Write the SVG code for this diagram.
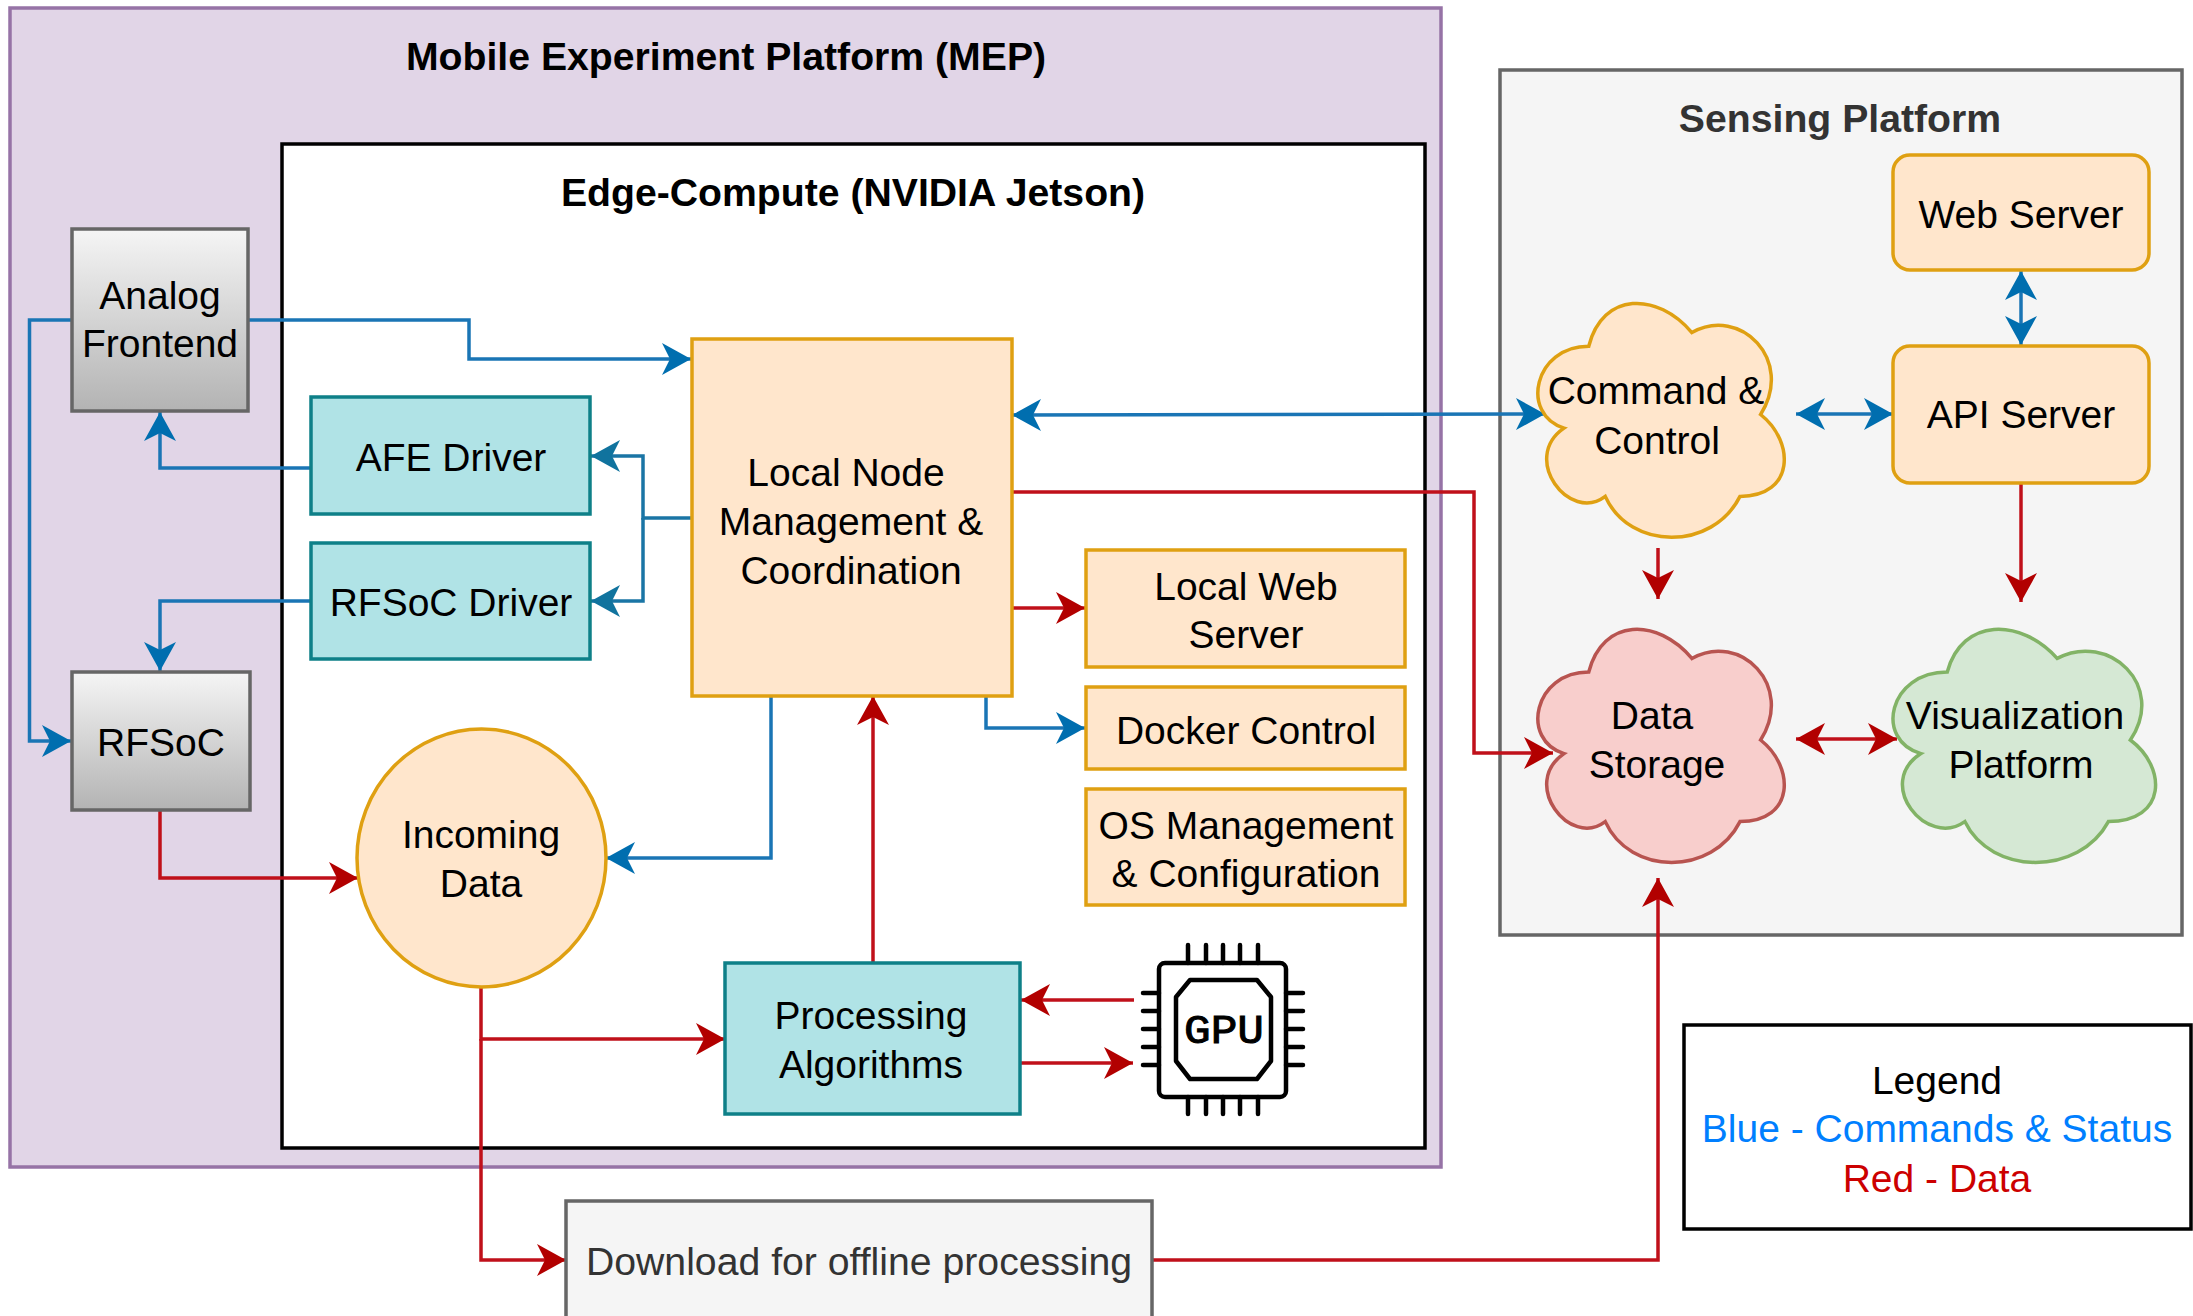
<svg xmlns="http://www.w3.org/2000/svg" xmlns:xlink="http://www.w3.org/1999/xlink" width="2193" height="1316" viewBox="0 0 2193 1316">
<style>
text{font-family:"Liberation Sans",Arial,sans-serif;font-size:39px;fill:#000;text-anchor:middle}
.t{font-weight:bold;font-size:39.200px}
.g{fill:#333}
.o{fill:#ffe6cc;stroke:#dfa012;stroke-width:3.5}
.c{fill:#b0e3e6;stroke:#0e8088;stroke-width:3.5}
.h{fill:url(#grey);stroke:#666;stroke-width:3.5}
.cl{stroke-width:3.5;vector-effect:non-scaling-stroke}
#conn path{fill:none;stroke-width:3.5}
.b{stroke:#1a75b5}
.tl{stroke:#1a75a5}
.r{stroke:#c0101a}
.gpu{fill:none;stroke:#000;stroke-width:4.500;stroke-linecap:round;stroke-linejoin:round}
</style>
<defs>
<linearGradient id="grey" x1="0" y1="0" x2="0" y2="1"><stop offset="0" stop-color="#f5f5f5"/><stop offset="1" stop-color="#b3b3b3"/></linearGradient>
<marker id="ab" markerUnits="userSpaceOnUse" markerWidth="32" markerHeight="36" refX="29" refY="17" orient="auto-start-reverse"><path d="M0,1 L29,17 L0,33 L8,17 Z" fill="#006eaf"/></marker>
<marker id="at" markerUnits="userSpaceOnUse" markerWidth="32" markerHeight="36" refX="29" refY="17" orient="auto-start-reverse"><path d="M0,1 L29,17 L0,33 L8,17 Z" fill="#10739e"/></marker>
<marker id="ar" markerUnits="userSpaceOnUse" markerWidth="32" markerHeight="36" refX="29" refY="17" orient="auto-start-reverse"><path d="M0,1 L29,17 L0,33 L8,17 Z" fill="#b20000"/></marker>
<path id="cloud" class="cl" d="M.25,.25C.05,.25 0,.5 .16,.55C0,.66 .18,.9 .31,.8C.4,1 .7,1 .8,.8C1,.8 1,.6 .875,.5C1,.3 .8,.1 .625,.2C.5,.05 .3,.05 .25,.25Z"/>
</defs>
<rect width="2193" height="1316" fill="#fff"/>
<g id="mep"><rect x="10" y="8" width="1431" height="1159" fill="#e1d5e7" stroke="#9673a6" stroke-width="3.5"/><text class="t" x="726" y="70">Mobile Experiment Platform (MEP)</text></g>
<g id="edge"><rect x="282" y="144" width="1143" height="1004" fill="#fff" stroke="#000" stroke-width="3.5"/><text class="t" x="853" y="206">Edge-Compute (NVIDIA Jetson)</text></g>
<g id="sensing"><rect x="1500" y="70" width="682" height="865" fill="#f5f5f5" stroke="#666" stroke-width="3.5"/><text class="t g" x="1840" y="132">Sensing Platform</text></g>
<g id="conn">
<path class="b" marker-end="url(#ab)" d="M249,320H469V359H691"/>
<path class="b" marker-end="url(#ab)" d="M71,320H29.500V741H71"/>
<path class="b" marker-end="url(#ab)" d="M310,468H160V412"/>
<path class="b" marker-end="url(#ab)" d="M310,601H160V671"/>
<path class="tl" marker-end="url(#at)" d="M691,518H643V456H591"/>
<path class="tl" marker-end="url(#at)" d="M643,518V601H591"/>
<path class="r" marker-end="url(#ar)" d="M160,810V878H358"/>
<path class="b" marker-end="url(#ab)" d="M771,696V858H606"/>
<path class="b" marker-start="url(#ab)" marker-end="url(#ab)" d="M1012,415L1545,414"/>
<path class="b" marker-start="url(#ab)" marker-end="url(#ab)" d="M1796,414H1893"/>
<path class="b" marker-start="url(#ab)" marker-end="url(#ab)" d="M2021,271V345"/>
<path class="r" marker-end="url(#ar)" d="M2021,483V602"/>
<path class="r" marker-end="url(#ar)" d="M1658,548V599"/>
<path class="r" marker-start="url(#ar)" marker-end="url(#ar)" d="M1796,739H1897"/>
<path class="r" marker-end="url(#ar)" d="M1012,492H1474V753H1553"/>
<path class="r" marker-end="url(#ar)" d="M1012,608H1085"/>
<path class="b" marker-end="url(#ab)" d="M986,696V728H1085"/>
<path class="r" marker-end="url(#ar)" d="M873,962V696"/>
<path class="r" marker-end="url(#ar)" d="M481,987V1039H725"/>
<path class="r" marker-end="url(#ar)" d="M481,1039V1260H566"/>
<path class="r" marker-end="url(#ar)" d="M1134,1000H1021"/>
<path class="r" marker-end="url(#ar)" d="M1021,1063H1133"/>
<path class="r" marker-end="url(#ar)" d="M1152,1260H1658V878"/>
</g>
<g id="analog-frontend"><rect class="h" x="72" y="229" width="176" height="182"/><text x="160" y="309">Analog</text><text x="160" y="357">Frontend</text></g>
<g id="rfsoc"><rect class="h" x="72" y="672" width="178" height="138"/><text x="161" y="756">RFSoC</text></g>
<g id="afe-driver"><rect class="c" x="311" y="397" width="279" height="117"/><text x="451" y="471">AFE Driver</text></g>
<g id="rfsoc-driver"><rect class="c" x="311" y="543" width="279" height="116"/><text x="451" y="616">RFSoC Driver</text></g>
<g id="local-node"><rect class="o" x="692" y="339" width="320" height="357"/><text x="846" y="486">Local Node</text><text x="851" y="535">Management &amp;</text><text x="851" y="584">Coordination</text></g>
<g id="local-web"><rect class="o" x="1086" y="550" width="319" height="117"/><text x="1246" y="600">Local Web</text><text x="1246" y="648">Server</text></g>
<g id="docker"><rect class="o" x="1086" y="687" width="319" height="82"/><text x="1246" y="744">Docker Control</text></g>
<g id="os"><rect class="o" x="1086" y="789" width="319" height="116"/><text x="1246" y="839">OS Management</text><text x="1246" y="887">&amp; Configuration</text></g>
<g id="incoming"><ellipse class="o" cx="481.500" cy="858" rx="124.500" ry="129"/><text x="481" y="848">Incoming</text><text x="481" y="897">Data</text></g>
<g id="processing"><rect class="c" x="725" y="963" width="295" height="151"/><text x="871" y="1029">Processing</text><text x="871" y="1078">Algorithms</text></g>
<g id="gpu">
<rect class="gpu" x="1159" y="963" width="127" height="134" rx="6"/>
<path class="gpu" d="M1190,980H1257L1271,997V1061L1257,1079H1190L1176,1061V997Z"/>
<path class="gpu" d="M1188,945V963M1206,945V963M1223,945V963M1240,945V963M1258,945V963M1188,1097V1114M1206,1097V1114M1223,1097V1114M1240,1097V1114M1258,1097V1114M1143,993H1159M1143,1011H1159M1143,1029H1159M1143,1047H1159M1143,1065H1159M1286,993H1303M1286,1011H1303M1286,1029H1303M1286,1047H1303M1286,1065H1303"/>
<text x="1224" y="1043" style="font-family:'Liberation Mono',monospace;font-size:40px;stroke:#000;stroke-width:1" textLength="80" lengthAdjust="spacingAndGlyphs">GPU</text>
</g>
<g id="download"><rect x="566" y="1201" width="586" height="125" fill="#f5f5f5" stroke="#666" stroke-width="3.5"/><text class="g" x="859" y="1275" style="font-size:39.200px">Download for offline processing</text></g>
<g id="web-server"><rect class="o" x="1893" y="155" width="256" height="115" rx="17"/><text x="2021" y="228">Web Server</text></g>
<g id="api-server"><rect class="o" x="1893" y="346" width="256" height="137" rx="17"/><text x="2021" y="428">API Server</text></g>
<g id="command"><use xlink:href="#cloud" transform="translate(1520,278) scale(275,273)" fill="#ffe6cc" stroke="#dfa012"/><text x="1656" y="404">Command &amp;</text><text x="1657" y="454">Control</text></g>
<g id="data-storage"><use xlink:href="#cloud" transform="translate(1520,604) scale(275,272)" fill="#f8cecc" stroke="#b85450"/><text x="1652" y="729">Data</text><text x="1657" y="778">Storage</text></g>
<g id="visualization"><use xlink:href="#cloud" transform="translate(1874,604) scale(293,272)" fill="#d5e8d4" stroke="#82b366"/><text x="2015" y="729">Visualization</text><text x="2021" y="778">Platform</text></g>
<g id="legend"><rect x="1684" y="1025" width="507" height="204" fill="#fff" stroke="#000" stroke-width="3.5"/><text x="1937" y="1094">Legend</text><text x="1937" y="1142" style="fill:#007fff">Blue - Commands &amp; Status</text><text x="1937" y="1192" style="fill:#cc0000">Red - Data</text></g>
</svg>
